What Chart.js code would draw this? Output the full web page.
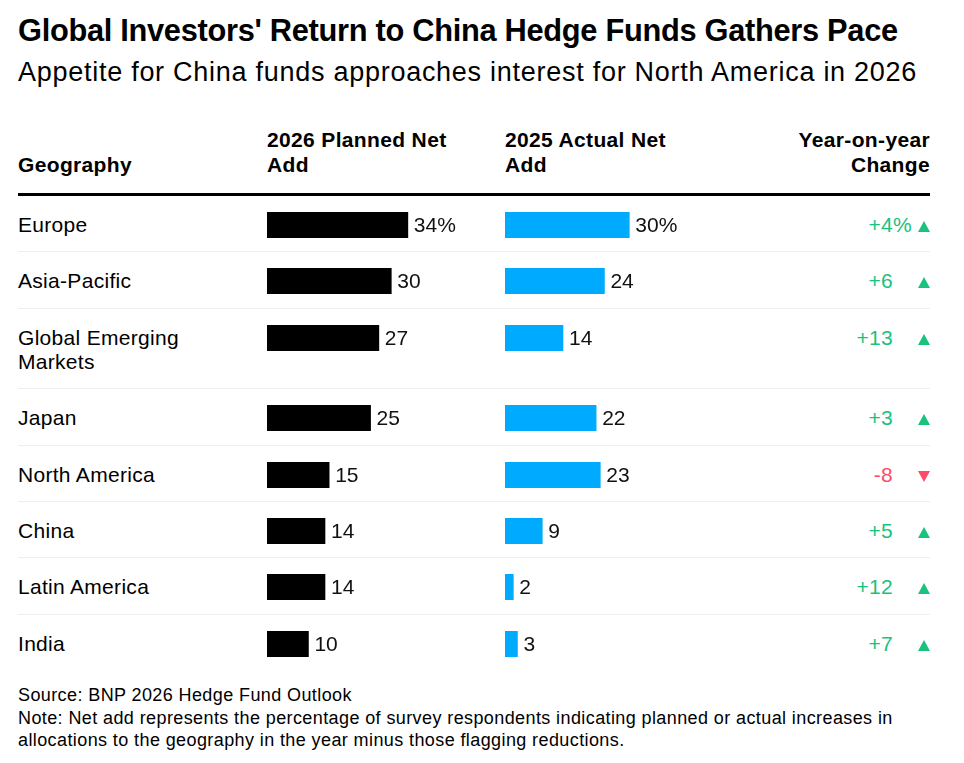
<!DOCTYPE html>
<html>
<head>
<meta charset="utf-8">
<script src="https://cdn.jsdelivr.net/npm/chart.js@4.4.1/dist/chart.umd.min.js"></script>
<style>
  body { margin: 0; background: #fff; font-family: "Liberation Sans", Arial, sans-serif; color: #000; }
  #wrap { position: relative; width: 964px; height: 763px; }
  h1 { position: absolute; left: 18px; top: 13px; margin: 0; font-size: 30.8px; font-weight: bold; letter-spacing: -0.3px; white-space: nowrap; }
  h2 { position: absolute; left: 18px; top: 57px; margin: 0; font-size: 27px; font-weight: normal; letter-spacing: 0.73px; white-space: nowrap; }
  #table { position: absolute; left: 18px; top: 127px; width: 912px; }
  .head { position: relative; height: 66px; border-bottom: 3px solid #000; font-weight: bold; font-size: 21px; letter-spacing: 0.35px; line-height: 25px; }
  .head div { position: absolute; top: 0; }
  .row { position: relative; border-bottom: 1px solid #efefef; }
  .row:last-child { border-bottom: none; }
  .name { width: 240px; padding: 17px 0 14.4px 0; font-size: 21px; letter-spacing: 0.3px; line-height: 24px; }
  .row canvas { position: absolute; top: 16px; }
  .chg { position: absolute; top: 17px; right: 37px; font-size: 21px; letter-spacing: 0.3px; line-height: 24px; text-align: right; }
  .pct { position: absolute; left: 100%; top: 0; }
  .tri { position: absolute; right: 0; top: 25px; width: 0; height: 0; border-left: 6px solid transparent; border-right: 6px solid transparent; }
  .up { border-bottom: 11px solid #19c27d; }
  .down { border-top: 11px solid #ff4b67; }
  #foot { position: absolute; left: 18px; top: 684px; font-size: 18px; letter-spacing: 0.4px; line-height: 22.5px; width: 895px; }
</style>
</head>
<body>
<div id="wrap">
  <h1>Global Investors' Return to China Hedge Funds Gathers Pace</h1>
  <h2>Appetite for China funds approaches interest for North America in 2026</h2>
  <div id="table">
    <div class="head">
      <div style="left:0; top:25px;">Geography</div>
      <div style="left:249px;">2026 Planned Net<br>Add</div>
      <div style="left:487px;">2025 Actual Net<br>Add</div>
      <div style="right:0; text-align:right;">Year-on-year<br>Change</div>
    </div>
    <div id="rows"></div>
  </div>
  <div id="foot">Source: BNP 2026 Hedge Fund Outlook<br>Note: Net add represents the percentage of survey respondents indicating planned or actual increases in allocations to the geography in the year minus those flagging reductions.</div>
</div>
<script>
const regions = ["Europe", "Asia-Pacific", "Global Emerging Markets", "Japan", "North America", "China", "Latin America", "India"];
const planned2026 = [34, 30, 27, 25, 15, 14, 14, 10];
const actual2025 = [30, 24, 14, 22, 23, 9, 2, 3];
const yoyChange = [4, 6, 13, 3, -8, 5, 12, 7];

const GREEN = "#19c27d";
const RED = "#ff4b67";

// draws the value just past the end of the bar
const valueLabel = {
  id: "valueLabel",
  afterDatasetsDraw(chart) {
    const ctx = chart.ctx;
    const bar = chart.getDatasetMeta(0).data[0];
    const v = chart.data.datasets[0].data[0];
    ctx.save();
    ctx.font = "21px 'Liberation Sans', Arial, sans-serif";
    ctx.fillStyle = "#111";
    ctx.textBaseline = "middle";
    ctx.fillText(v + (chart.options.showPct ? "%" : ""), bar.x + 6, bar.y + 1);
    ctx.restore();
  }
};

function barChart(canvas, value, color, first) {
  return new Chart(canvas.getContext("2d"), {
    type: "bar",
    data: {
      labels: [""],
      datasets: [{ data: [value], backgroundColor: color, barPercentage: 1, categoryPercentage: 1, borderWidth: 0 }]
    },
    options: {
      showPct: first,
      indexAxis: "y",
      responsive: false,
      animation: false,
      layout: { padding: 0 },
      scales: {
        x: { display: false, min: 0, max: 56 },
        y: { display: false }
      },
      plugins: { legend: { display: false }, tooltip: { enabled: false } }
    },
    plugins: [valueLabel]
  });
}

const rowsEl = document.getElementById("rows");
regions.forEach((name, i) => {
  const row = document.createElement("div");
  row.className = "row";
  const label = name === "Global Emerging Markets" ? "Global Emerging<br>Markets" : name;
  const c = yoyChange[i];
  row.innerHTML =
    `<div class="name">${label}</div>` +
    `<canvas width="232" height="26" style="left:249px"></canvas>` +
    `<canvas width="232" height="26" style="left:487px"></canvas>` +
    `<div class="chg" style="color:${c < 0 ? RED : GREEN}">${c > 0 ? "+" : ""}${c}${i === 0 ? '<span class="pct">%</span>' : ""}</div>` +
    `<div class="tri ${c < 0 ? "down" : "up"}"></div>`;
  rowsEl.appendChild(row);
  const cv = row.querySelectorAll("canvas");
  barChart(cv[0], planned2026[i], "#000", i === 0);
  barChart(cv[1], actual2025[i], "#00aaff", i === 0);
});
</script>
</body>
</html>
